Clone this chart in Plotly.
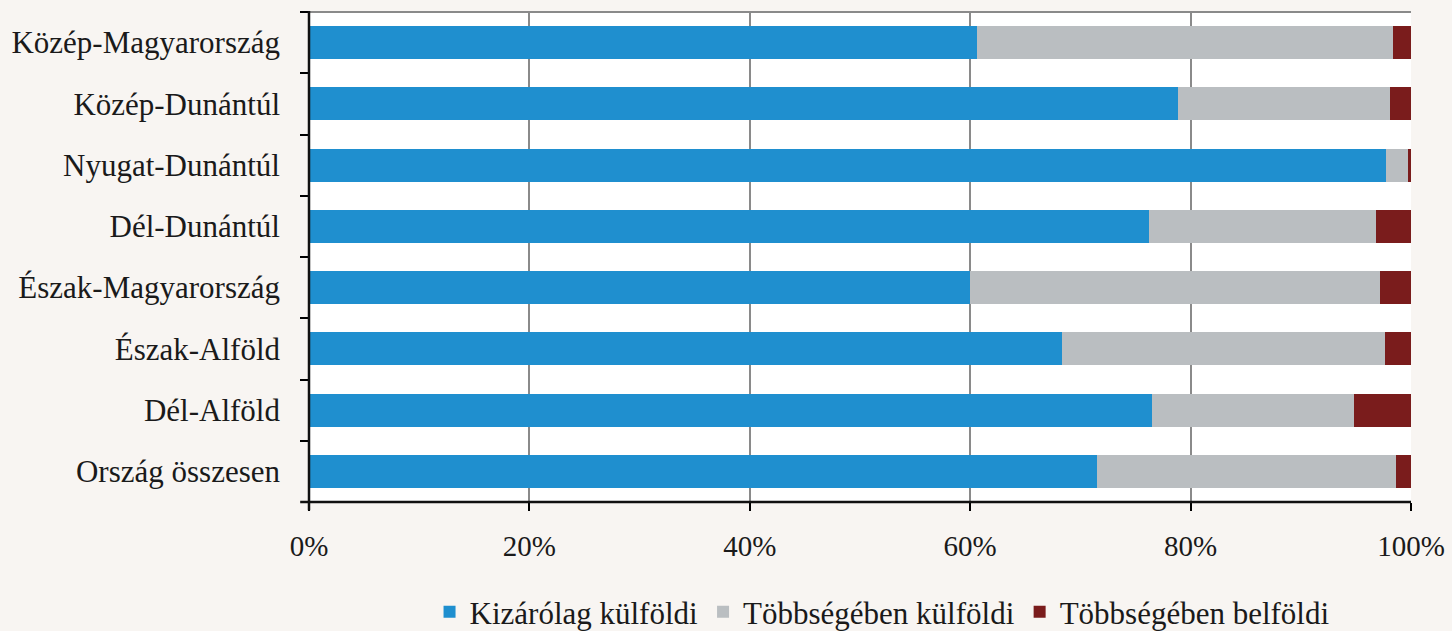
import plotly.graph_objects as go

categories = ["Közép-Magyarország", "Közép-Dunántúl", "Nyugat-Dunántúl", "Dél-Dunántúl",
              "Észak-Magyarország", "Észak-Alföld", "Dél-Alföld", "Ország összesen"]
kizarolag_kulfoldi = [60.6, 78.9, 97.7, 76.2, 60.0, 68.3, 76.5, 71.5]
tobbsegeben_kulfoldi = [37.8, 19.2, 2.05, 20.6, 37.2, 29.3, 18.3, 27.1]
tobbsegeben_belfoldi = [1.6, 1.9, 0.25, 3.2, 2.8, 2.4, 5.2, 1.4]
series_names = ["Kizárólag külföldi", "Többségében külföldi", "Többségében belföldi"]
colors = ["#1f8fcf", "#babec1", "#7a1c1c"]
xticks = [0, 20, 40, 60, 80, 100]
xtick_labels = ["0%", "20%", "40%", "60%", "80%", "100%"]

fig = go.Figure()
for name, vals, col in zip(series_names,
                           [kizarolag_kulfoldi, tobbsegeben_kulfoldi, tobbsegeben_belfoldi],
                           colors):
    fig.add_trace(go.Bar(y=categories, x=vals, name=name, orientation="h",
                         marker=dict(color=col, line=dict(width=0))))

font_family = "Liberation Serif, Times New Roman, serif"
fig.update_layout(
    barmode="stack",
    bargap=0.46,
    width=1452, height=631,
    margin=dict(l=309, r=41, t=12, b=129, autoexpand=False),
    paper_bgcolor="#f8f5f2",
    plot_bgcolor="#ffffff",
    font=dict(family=font_family, size=28, color="#1a1a1a"),
    showlegend=True,
    legend=dict(orientation="h", x=0.52, xanchor="center", y=-0.2245, yanchor="middle",
                font=dict(size=31), itemwidth=30, traceorder="normal",
                bgcolor="rgba(0,0,0,0)"),
    xaxis=dict(range=[0, 100], tickvals=xticks, ticktext=xtick_labels,
               showgrid=True, gridcolor="#8a8a8a", gridwidth=1.5,
               showline=False,
               ticks="outside", ticklen=8, tickcolor="#000000", tickwidth=2,
               zeroline=False, fixedrange=True, tickfont=dict(size=29),
               ticklabelstandoff=10),
    yaxis=dict(categoryorder="array", categoryarray=categories, autorange="reversed",
               showgrid=False, showline=False,
               ticks="outside", ticklen=8, tickcolor="#000000", tickwidth=2,
               tickson="boundaries", ticklabelstandoff=28, fixedrange=True,
               tickfont=dict(size=31)),
    shapes=[
        dict(type="line", xref="paper", yref="paper", x0=0, x1=1, y0=1, y1=1,
             line=dict(color="#8a8a8a", width=2)),
        dict(type="line", xref="paper", yref="paper", x0=-0.008, x1=1, y0=0, y1=0,
             line=dict(color="#111111", width=2.5), layer="above"),
        dict(type="line", xref="paper", yref="paper", x0=0, x1=0, y0=-0.017, y1=1.002,
             line=dict(color="#111111", width=2.5), layer="above"),
    ],
)

fig.write_html("out.html", config={"displayModeBar": False},
               post_script="document.body.style.margin='0';document.body.style.background='#f8f5f2';")
